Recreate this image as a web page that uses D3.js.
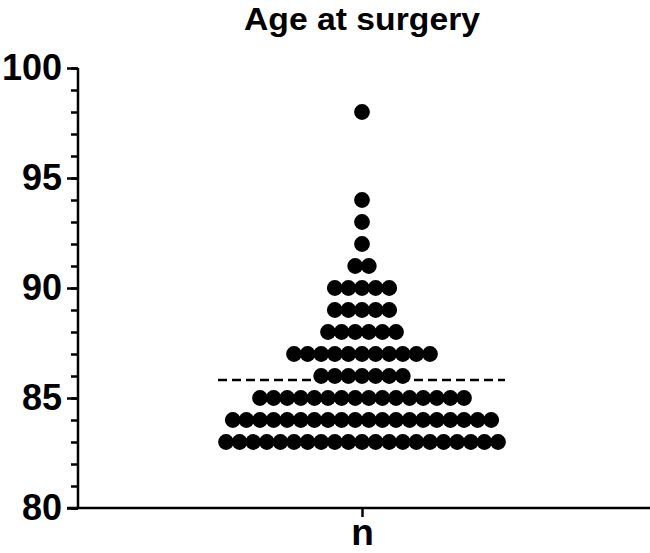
<!DOCTYPE html>
<html>
<head>
<meta charset="utf-8">
<script src="https://cdn.jsdelivr.net/npm/d3@7"></script>
<style>
  html, body { margin: 0; padding: 0; background: #fff; }
  svg { display: block; }
  text { font-family: "Liberation Sans", Arial, sans-serif; font-weight: bold; fill: #000; }
</style>
</head>
<body>
<svg id="chart" width="650" height="553"></svg>
<script>
// Data
const title = "Age at surgery";
const groups = ["n"];
const ages = [83, 84, 85, 86, 87, 88, 89, 90, 91, 92, 93, 94, 98];
const counts = [21, 20, 16, 7, 11, 6, 5, 5, 2, 1, 1, 1, 1];
const yTicks = [80, 85, 90, 95, 100];

const svg = d3.select("#chart");

const y = d3.scaleLinear().domain([80, 100]).range([508, 68]);
const x = d3.scalePoint().domain(groups).range([362, 362]);
const pitch = 13.6, r = 7.9;

// expand data to points
const points = [];
ages.forEach((a, k) => {
  const c = counts[k];
  for (let i = 0; i < c; i++) points.push({ g: "n", age: a, off: i - (c - 1) / 2 });
});
const mean = d3.sum(ages.map((a, k) => a * counts[k])) / d3.sum(counts);

// Title
svg.append("text")
  .attr("x", 362).attr("y", 30)
  .attr("text-anchor", "middle")
  .attr("font-size", 31)
  .attr("textLength", 236).attr("lengthAdjust", "spacingAndGlyphs")
  .text(title);

// Y axis minor ticks
const yAxisMinor = d3.axisLeft(y).tickValues(d3.range(80, 101, 1)).tickSize(7).tickFormat("");
const gMinor = svg.append("g").attr("transform", "translate(78,0)").call(yAxisMinor);
gMinor.select(".domain").remove();
gMinor.selectAll("line").attr("stroke", "#000").attr("stroke-width", 2.5);

// Y axis major
const yAxis = d3.axisLeft(y).tickValues(yTicks).tickSize(11).tickPadding(5).tickFormat(d3.format("d"));
const gY = svg.append("g").attr("transform", "translate(78,0)").call(yAxis);
gY.select(".domain").attr("d", `M0,${y(100)}V${y(80)}`).attr("stroke", "#000").attr("stroke-width", 2.5);
gY.selectAll(".tick line").attr("stroke", "#000").attr("stroke-width", 2.5);
gY.selectAll(".tick text")
  .attr("font-size", 36).attr("font-weight", "bold")
  .attr("font-family", "Liberation Sans, Arial, sans-serif")
  .attr("fill", "#000");

// X axis
const xAxis = d3.axisBottom(x).tickSize(9).tickPadding(6);
const gX = svg.append("g").attr("transform", `translate(0,${y(80)})`).call(xAxis);
gX.select(".domain").attr("d", `M67,0H650`).attr("stroke", "#000").attr("stroke-width", 2.5);
gX.selectAll(".tick line").attr("stroke", "#000").attr("stroke-width", 2.5);
gX.selectAll(".tick text")
  .attr("y", 37).attr("dy", 0)
  .attr("font-size", 37).attr("font-weight", "bold")
  .attr("font-family", "Liberation Sans, Arial, sans-serif")
  .attr("fill", "#000");

// Mean line
svg.append("line")
  .attr("x1", 218).attr("x2", 505)
  .attr("y1", y(mean)).attr("y2", y(mean))
  .attr("stroke", "#000").attr("stroke-width", 2.5)
  .attr("stroke-dasharray", "9,5");

// Dots
svg.append("g").selectAll("circle").data(points).join("circle")
  .attr("cx", d => x(d.g) + d.off * pitch)
  .attr("cy", d => y(d.age))
  .attr("r", r)
  .attr("fill", "#000");
</script>
</body>
</html>
